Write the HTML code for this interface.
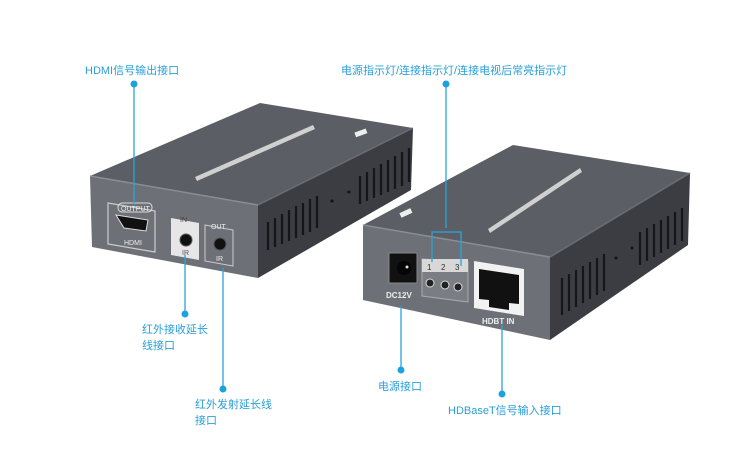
<!DOCTYPE html>
<html><head><meta charset="utf-8"><style>
html,body{margin:0;padding:0;background:#fff;}
svg{display:block}
text{font-family:"Liberation Sans","Noto Sans CJK SC",sans-serif;}
.lb{fill:#2a9fd8;font-size:11px;}
</style></head><body>
<svg width="749" height="468" viewBox="0 0 749 468" xmlns="http://www.w3.org/2000/svg">
<rect width="749" height="468" fill="#fff"/>
<!-- Left device -->
<polygon points="90,176 258,205 413,128 260,103" fill="#5b5e64"/>
<polygon points="258,205 413,128 411,190 258,278" fill="#3b3d42"/>
<polygon points="90,176 258,205 258,278 92,247" fill="#6d7076"/>
<line x1="90" y1="176" x2="258" y2="205" stroke="#8a8d93" stroke-width="1.5"/>
<line x1="258" y1="205" x2="413" y2="128" stroke="#6a6d72" stroke-width="1.5"/>
<g stroke="#15161a" stroke-width="2.2">
<line x1="268" y1="222" x2="268" y2="250"/><line x1="275" y1="218" x2="275" y2="247"/><line x1="282" y1="214" x2="282" y2="244"/><line x1="289" y1="210" x2="289" y2="241"/><line x1="296" y1="206" x2="296" y2="238"/><line x1="303" y1="203" x2="303" y2="235"/><line x1="310" y1="199" x2="310" y2="232"/><line x1="317" y1="196" x2="317" y2="228"/>
<line x1="360" y1="176" x2="360" y2="204"/><line x1="367" y1="172" x2="367" y2="201"/><line x1="374" y1="168" x2="374" y2="198"/><line x1="381" y1="164" x2="381" y2="195"/><line x1="388" y1="160" x2="388" y2="192"/><line x1="395" y1="156" x2="395" y2="189"/><line x1="402" y1="152" x2="402" y2="186"/><line x1="409" y1="148" x2="409" y2="182"/>
</g>
<circle cx="332" cy="201" r="1.5" fill="#111"/><circle cx="349" cy="192" r="1.5" fill="#111"/>
<polygon points="195,177 313,125 315,129 197,181" fill="#d0d0d0"/>
<rect x="355" y="130" width="12" height="5" fill="#eee" transform="rotate(-20 362 133)"/>
<!-- left ports -->
<path d="M108,203 L155,211 L155,252 L108,244 Z" fill="none" stroke="#ccc" stroke-width="1.2"/>
<rect x="118" y="203" width="34" height="9" rx="4" fill="none" stroke="#ddd"/>
<text x="121" y="211" font-size="7" fill="#eee">OUTPUT</text>
<path d="M116,215 L148,220 L146,231 L124,228 Z" fill="#111" stroke="#ddd"/>
<text x="124" y="245" font-size="7" fill="#eee">HDMI</text>
<path d="M171,218 L199,223 L199,260 L171,255 Z" fill="#e6e6e6"/>
<circle cx="186" cy="240" r="6" fill="#111" stroke="#555"/>
<text x="182" y="255" font-size="7" fill="#555">IR</text>
<text x="180" y="222" font-size="7" fill="#444">IN</text>
<path d="M205,225 L233,230 L233,266 L205,261 Z" fill="none" stroke="#ccc"/>
<circle cx="220" cy="244" r="6" fill="#111" stroke="#555"/>
<text x="216" y="261" font-size="7" fill="#eee">IR</text>
<text x="211" y="229" font-size="7" fill="#eee">OUT</text>
<!-- Right device -->
<polygon points="363,225 550,257 690,173 513,145" fill="#5b5e64"/>
<polygon points="550,257 690,173 688,245 550,340" fill="#3b3d42"/>
<polygon points="363,225 550,257 550,340 363,300" fill="#6d7076"/>
<line x1="363" y1="225" x2="550" y2="257" stroke="#8a8d93" stroke-width="1.5"/>
<line x1="550" y1="257" x2="690" y2="173" stroke="#6a6d72" stroke-width="1.5"/>
<g stroke="#15161a" stroke-width="2.2">
<line x1="562" y1="278" x2="562" y2="315"/><line x1="569" y1="274" x2="569" y2="311"/><line x1="576" y1="270" x2="576" y2="307"/><line x1="583" y1="266" x2="583" y2="303"/><line x1="590" y1="262" x2="590" y2="299"/><line x1="597" y1="258" x2="597" y2="295"/><line x1="604" y1="254" x2="604" y2="291"/>
<line x1="640" y1="232" x2="640" y2="265"/><line x1="647" y1="228" x2="647" y2="261"/><line x1="654" y1="224" x2="654" y2="257"/><line x1="661" y1="220" x2="661" y2="253"/><line x1="668" y1="216" x2="668" y2="249"/><line x1="675" y1="212" x2="675" y2="245"/><line x1="682" y1="208" x2="682" y2="241"/>
</g>
<circle cx="616" cy="258" r="1.5" fill="#111"/><circle cx="632" cy="248" r="1.5" fill="#111"/>
<polygon points="488,229 580,168 582,172 490,233" fill="#d0d0d0"/>
<rect x="400" y="210" width="12" height="5" fill="#eee" transform="rotate(-25 407 213)"/>
<!-- right ports -->
<rect x="389" y="253" width="28" height="30" fill="#111" stroke="#888"/>
<circle cx="404" cy="268" r="7" fill="#050505"/><circle cx="407" cy="267" r="1.5" fill="#ddd"/>
<text x="386" y="298" font-size="8" font-weight="bold" fill="#eee">DC12V</text>
<path d="M422,259 L468,262 L468,302 L422,296 Z" fill="#7a7d83" stroke="#aaa"/>
<rect x="422" y="259" width="46" height="13" fill="#d8d8d8"/>
<text x="427" y="270" font-size="8" fill="#333">1</text><text x="441" y="270" font-size="8" fill="#333">2</text><text x="455" y="270" font-size="8" fill="#333">3</text>
<circle cx="430" cy="283" r="4" fill="#222" stroke="#ddd"/><circle cx="445" cy="285" r="4" fill="#222" stroke="#ddd"/><circle cx="458" cy="287" r="4" fill="#222" stroke="#ddd"/>
<path d="M474,261 L524,269 L524,316 L474,308 Z" fill="#f2f2f2"/>
<path d="M479,269 L519,275 L519,304 L509,303 L509,310 L489,307 L489,300 L479,299 Z" fill="#111"/>
<text x="482" y="324" font-size="8" font-weight="bold" fill="#eee">HDBT IN</text>
<!-- connectors -->
<g stroke="#2aa4dc" stroke-width="1.3" fill="none">
<line x1="134" y1="84" x2="134" y2="205"/>
<line x1="446" y1="84" x2="446" y2="228"/>
<polyline points="432,262 432,232 461,232 461,266"/>
<line x1="185" y1="255" x2="185" y2="314"/>
<line x1="223" y1="268" x2="223" y2="389"/>
<line x1="401" y1="306" x2="401" y2="370"/>
<line x1="502" y1="325" x2="502" y2="394"/>
</g>
<g fill="#1ea2de">
<circle cx="134" cy="84" r="3.5"/><circle cx="446" cy="84" r="3.5"/>
<circle cx="185" cy="314" r="3.5"/><circle cx="223" cy="389" r="3.5"/>
<circle cx="401" cy="370" r="3.5"/><circle cx="502" cy="394" r="3.5"/>
</g>
<text class="lb" x="85" y="74">HDMI信号输出接口</text>
<text class="lb" x="341" y="74">电源指示灯/连接指示灯/连接电视后常亮指示灯</text>
<text class="lb" x="142" y="333">红外接收延长</text>
<text class="lb" x="142" y="349">线接口</text>
<text class="lb" x="195" y="408">红外发射延长线</text>
<text class="lb" x="195" y="424">接口</text>
<text class="lb" x="378" y="390">电源接口</text>
<text class="lb" x="448" y="414">HDBaseT信号输入接口</text>
</svg>
</body></html>
